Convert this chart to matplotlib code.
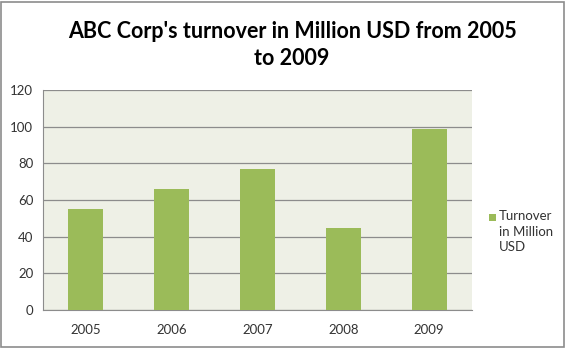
import matplotlib.pyplot as plt
import matplotlib.patches as mpatches
import numpy as np

years    = ['2005', '2006', '2007', '2008', '2009']
turnover = [55, 66, 77, 45, 99]
yticks   = [0, 20, 40, 60, 80, 100, 120]
series   = 'Turnover\nin Million\nUSD'
title_1  = "ABC Corp's turnover in Million USD from 2005"
title_2  = 'to 2009'

plt.rcParams['font.family'] = ['Lato', 'DejaVu Sans']

W, H = 566, 348
fig = plt.figure(figsize=(W / 100, H / 100), dpi=100)
fig.patch.set_facecolor('white')

# outer chart border
fig.add_artist(mpatches.Rectangle((1 / W, 1 / H), (W - 3) / W, (H - 3) / H,
                                  transform=fig.transFigure, fill=False,
                                  edgecolor='#8c8c8c', linewidth=1.2))

ax = fig.add_axes([43 / W, 1 - 310 / H, (472 - 43) / W, (310 - 90) / H])
ax.set_facecolor('#eef0e6')

x = np.arange(len(years))
ax.bar(x, turnover, width=0.41, color='#9bbb59', zorder=3)

ax.set_xlim(-0.5, len(years) - 0.5)
ax.set_ylim(0, 120)
ax.set_yticks(yticks)
ax.set_xticks(x, years)
ax.yaxis.grid(True, color='#8c8c8c', linewidth=0.9, zorder=0)

for s in ['top', 'right']:
    ax.spines[s].set_visible(False)
ax.spines['left'].set_color('#8c8c8c')
ax.spines['bottom'].set_color('#8c8c8c')
ax.tick_params(axis='both', length=0, labelsize=9.5, colors='#333333')
ax.tick_params(axis='y', pad=7)
ax.tick_params(axis='x', pad=10)

# title, two lines as Excel wraps them
fig.text(292 / W, 1 - 38 / H, title_1, ha='center', va='baseline', fontsize=15.5,
         fontweight='bold')
fig.text(292 / W, 1 - 65 / H, title_2, ha='center', va='baseline', fontsize=15.5,
         fontweight='bold')

# legend, drawn by hand so the lines stay left-aligned
fig.add_artist(mpatches.Rectangle((489 / W, 1 - 221 / H), 7 / W, 7 / H,
                                  transform=fig.transFigure, facecolor='#9bbb59',
                                  edgecolor='none'))
fig.text(499 / W, 1 - 210 / H, series, ha='left', va='top', fontsize=9.5,
         color='#333333', linespacing=1.35)

fig.savefig('out.png', dpi=100)
